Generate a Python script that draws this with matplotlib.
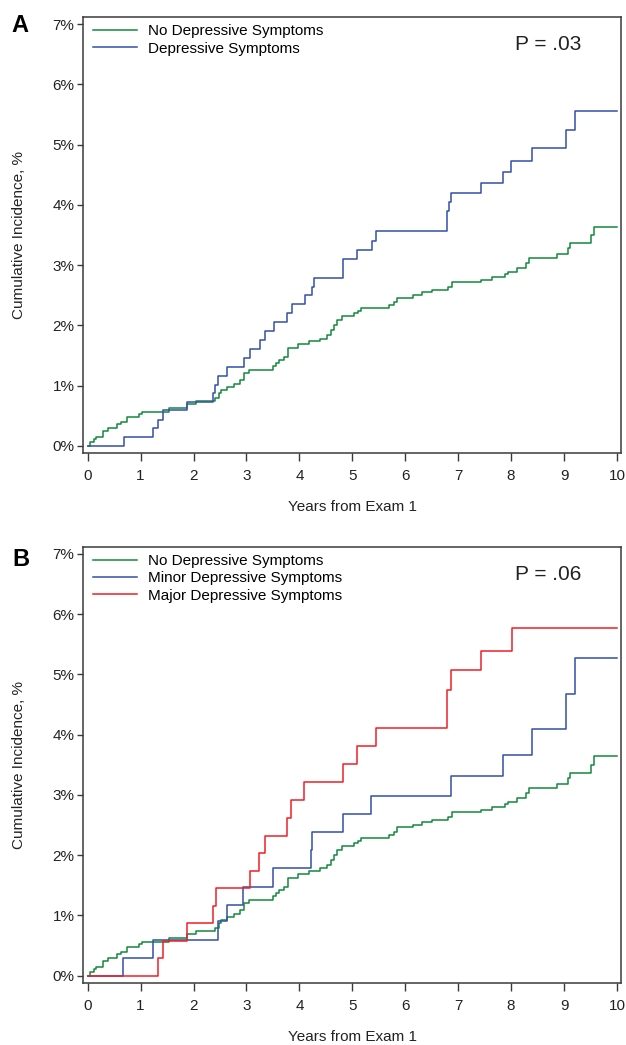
import matplotlib
matplotlib.use('Agg')
import matplotlib.pyplot as plt
import numpy as np

plt.rcParams['font.family'] = ['Liberation Sans', 'DejaVu Sans']

# years from exam 1 at which each step happens, and cumulative incidence (%) after the step
no_dep_years = [0, 0.04, 0.11, 0.16, 0.29, 0.39, 0.56, 0.63, 0.74, 0.96, 1.02, 1.53, 1.87, 2.05,
                2.40, 2.49, 2.52, 2.63, 2.76, 2.88, 2.96, 3.04, 3.50, 3.56, 3.62, 3.70, 3.79, 3.97,
                4.19, 4.38, 4.53, 4.60, 4.66, 4.71, 4.80, 5.03, 5.10, 5.17, 5.69, 5.79, 5.85, 6.15,
                6.31, 6.50, 6.81, 6.88, 7.44, 7.63, 7.88, 7.95, 8.11, 8.28, 8.34, 8.86, 9.08, 9.12,
                9.50, 9.57]
no_dep_inc = [0, 0.06, 0.11, 0.15, 0.25, 0.29, 0.36, 0.40, 0.48, 0.52, 0.56, 0.62, 0.69, 0.74,
              0.79, 0.87, 0.92, 0.98, 1.03, 1.09, 1.20, 1.25, 1.32, 1.38, 1.42, 1.48, 1.62, 1.69,
              1.74, 1.78, 1.84, 1.92, 2.00, 2.08, 2.15, 2.20, 2.24, 2.29, 2.33, 2.38, 2.46, 2.50,
              2.55, 2.59, 2.63, 2.72, 2.75, 2.80, 2.85, 2.89, 2.95, 3.04, 3.11, 3.18, 3.28, 3.37,
              3.50, 3.64]

dep_years = [0, 0.68, 1.24, 1.32, 1.43, 1.87, 2.36, 2.41, 2.47, 2.64, 2.95, 3.07, 3.25, 3.35,
             3.52, 3.77, 3.86, 4.10, 4.23, 4.27, 4.82, 5.08, 5.37, 5.45, 6.78, 6.82, 6.86, 7.44,
             7.85, 8.00, 8.40, 9.04, 9.21]
dep_inc = [0, 0.15, 0.29, 0.43, 0.59, 0.73, 0.87, 1.01, 1.16, 1.31, 1.46, 1.61, 1.76, 1.91,
           2.05, 2.20, 2.35, 2.50, 2.64, 2.79, 3.10, 3.25, 3.40, 3.57, 3.89, 4.04, 4.19, 4.36,
           4.54, 4.73, 4.94, 5.24, 5.56]

minor_years = [0, 0.67, 1.24, 2.47, 2.63, 2.94, 3.51, 4.21, 4.23, 4.82, 5.35, 6.86, 7.85, 8.40,
               9.04, 9.21]
minor_inc = [0, 0.30, 0.59, 0.90, 1.18, 1.48, 1.79, 2.08, 2.39, 2.69, 2.99, 3.31, 3.66, 4.10,
             4.67, 5.27]

major_years = [0, 1.32, 1.43, 1.87, 2.36, 2.43, 3.06, 3.24, 3.35, 3.77, 3.84, 4.09, 4.82, 5.08,
               5.45, 6.78, 6.79, 6.86, 7.44, 8.02]
major_inc = [0, 0.29, 0.58, 0.87, 1.16, 1.45, 1.74, 2.03, 2.32, 2.62, 2.92, 3.21, 3.51, 3.81,
             4.11, 4.44, 4.75, 5.07, 5.39, 5.77]

END_YEAR = 10
x_ticks = list(range(0, 11))
y_ticks = list(range(0, 8))

GREEN = '#13893c'
BLUE = '#3450a8'
RED = '#ee1f26'
FRAME = '#3a3a3a'


def draw_step(ax, years, inc, color, label):
    xs = np.append(years, END_YEAR)
    ys = np.append(inc, inc[-1])
    ax.step(xs, ys, where='post', color=color, lw=1.1, label=label)


def style_axes(ax, p_text):
    ax.set_xlim(-0.083, 10.076)
    ax.set_ylim(-0.126, 7.12)
    ax.set_xticks(x_ticks)
    ax.set_yticks(y_ticks)
    ax.set_yticklabels(['%d%%' % v for v in y_ticks])
    for sp in ax.spines.values():
        sp.set_color(FRAME)
        sp.set_linewidth(1.1)
    ax.tick_params(axis='both', direction='out', width=1.0, color=FRAME,
                   labelsize=11, labelcolor='#222222')
    ax.tick_params(axis='x', length=6, pad=5.5)
    ax.tick_params(axis='y', length=4, pad=2.3)
    ax.set_ylabel('Cumulative Incidence, %', fontsize=11, color='#222222')
    ax.set_xlabel('Years from Exam 1', fontsize=11, color='#222222')
    ax.yaxis.set_label_coords(-0.107, 0.5)
    ax.xaxis.set_label_coords(0.5, -0.106)
    ax.text(0.803, 0.936, p_text, transform=ax.transAxes, fontsize=15, color='#222222',
            ha='left', va='center')
    ax.legend(loc='upper left', bbox_to_anchor=(0.018, 0.983), frameon=False, fontsize=11,
              borderaxespad=0, borderpad=0, labelspacing=0.21, handlelength=2.9,
              handletextpad=0.68)


fig = plt.figure(figsize=(6.26, 10.45), dpi=100)

ax_a = fig.add_axes([83.3 / 626, 1 - 453.3 / 1045, 537.7 / 626, 436.3 / 1045])
draw_step(ax_a, no_dep_years, no_dep_inc, GREEN, 'No Depressive Symptoms')
draw_step(ax_a, dep_years, dep_inc, BLUE, 'Depressive Symptoms')
style_axes(ax_a, 'P = .03')

ax_b = fig.add_axes([83.3 / 626, 1 - 983.3 / 1045, 537.7 / 626, 436.6 / 1045])
draw_step(ax_b, no_dep_years, no_dep_inc, GREEN, 'No Depressive Symptoms')
draw_step(ax_b, minor_years, minor_inc, BLUE, 'Minor Depressive Symptoms')
draw_step(ax_b, major_years, major_inc, RED, 'Major Depressive Symptoms')
style_axes(ax_b, 'P = .06')

fig.text(20 / 626, 1 - 26 / 1045, 'A', fontsize=17, fontweight='bold', ha='center', va='center')
fig.text(21 / 626, 1 - 559 / 1045, 'B', fontsize=17, fontweight='bold', ha='center', va='center')

plt.savefig('out.png', dpi=100)
